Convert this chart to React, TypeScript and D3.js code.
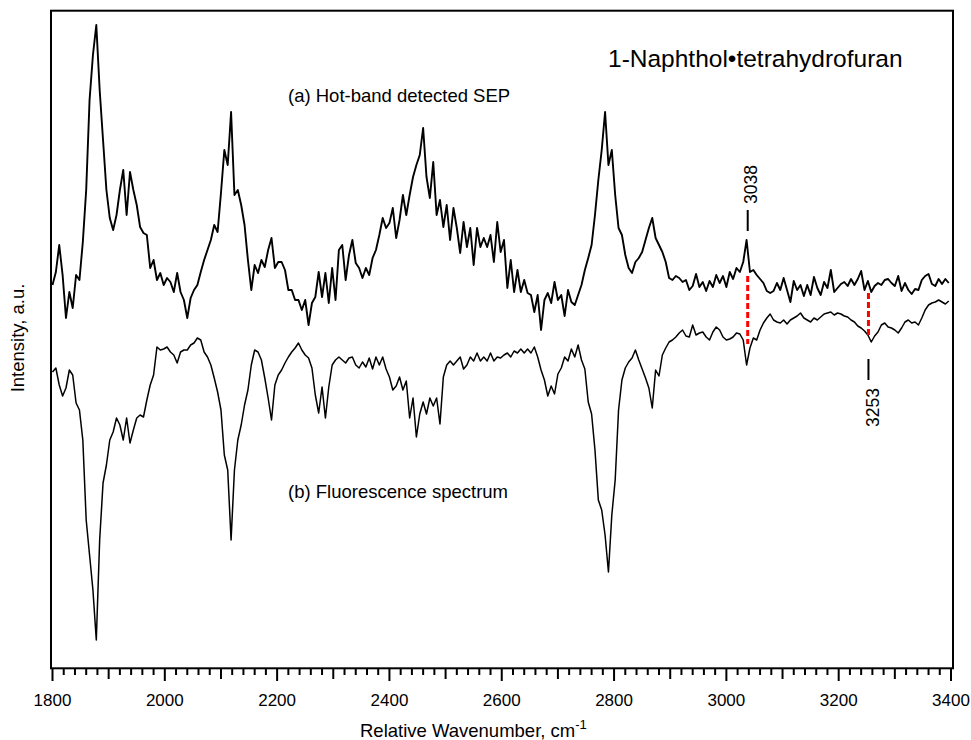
import React from "react";
import * as d3 from "d3";

// Wavenumber grid (cm^-1) on which both spectra were read
const wavenumbers: number[] = d3.range(1800, 3397, 6);

// (a) Hot-band detected SEP (a.u.)
const sepValues: number[] = [
  383, 396, 423, 393, 350, 376, 360, 393, 388, 426,
  478, 568, 613, 643, 578, 528, 478, 450, 438, 453,
  478, 498, 453, 496, 478, 463, 441, 435, 433, 400,
  408, 388, 395, 383, 390, 386, 376, 395, 376, 368,
  350, 370, 378, 383, 396, 408, 418, 428, 443, 436,
  475, 518, 503, 556, 473, 478, 463, 443, 408, 378,
  403, 395, 408, 401, 418, 430, 400, 406, 406, 398,
  378, 378, 368, 368, 358, 368, 343, 365, 371, 396,
  371, 395, 365, 400, 368, 418, 423, 388, 413, 428,
  405, 400, 390, 400, 393, 410, 418, 433, 450, 440,
  445, 460, 430, 448, 473, 453, 473, 491, 503, 513,
  540, 491, 470, 506, 453, 468, 441, 463, 428, 460,
  440, 415, 446, 421, 440, 403, 440, 421, 430, 421,
  433, 406, 446, 416, 428, 380, 408, 376, 398, 376,
  388, 375, 373, 356, 373, 338, 368, 375, 365, 386,
  368, 373, 352, 378, 366, 363, 373, 383, 398, 410,
  423, 453, 488, 518, 556, 503, 518, 473, 440, 433,
  413, 400, 395, 406, 410, 416, 428, 440, 450, 430,
  423, 416, 406, 390, 388, 392, 390, 386, 388, 378,
  382, 394, 381, 386, 377, 387, 381, 393, 385, 392,
  381, 396, 389, 400, 396, 406, 428, 396, 398, 393,
  389, 385, 377, 375, 377, 385, 378, 390, 378, 366,
  387, 378, 383, 372, 383, 373, 391, 380, 373, 386,
  380, 398, 376, 380, 384, 386, 382, 389, 383, 389,
  397, 378, 387, 376, 382, 385, 383, 388, 389, 385,
  382, 392, 377, 385, 378, 374, 379, 378, 388, 392,
  394, 384, 382, 389, 384, 389, 385,
];

// (b) Fluorescence spectrum (a.u.)
const fluorValues: number[] = [
  296, 300, 283, 272, 280, 298, 293, 265, 258, 228,
  148, 113, 78, 28, 128, 185, 203, 228, 236, 250,
  243, 228, 250, 225, 238, 250, 253, 251, 268, 283,
  293, 321, 318, 319, 321, 316, 313, 305, 316, 318,
  318, 323, 325, 330, 328, 316, 311, 303, 290, 276,
  258, 213, 198, 128, 198, 228, 243, 263, 278, 303,
  318, 316, 308, 290, 270, 248, 283, 293, 298, 305,
  311, 316, 320, 325, 318, 313, 310, 300, 273, 255,
  281, 250, 281, 303, 308, 311, 308, 305, 310, 311,
  303, 300, 306, 301, 310, 299, 311, 303, 311, 299,
  291, 278, 282, 291, 278, 287, 250, 270, 231, 254,
  266, 254, 270, 262, 270, 244, 291, 303, 307, 303,
  307, 311, 299, 303, 311, 307, 315, 307, 311, 307,
  315, 307, 311, 310, 313, 315, 311, 317, 315, 319,
  315, 319, 315, 321, 311, 298, 288, 272, 282, 274,
  294, 300, 311, 307, 319, 311, 323, 308, 299, 266,
  254, 218, 168, 158, 133, 96, 153, 188, 258, 288,
  300, 306, 310, 318, 308, 299, 290, 280, 260, 298,
  292, 313, 320, 326, 328, 331, 335, 338, 332, 331,
  343, 333, 335, 336, 331, 328, 336, 341, 338, 331,
  328, 329, 331, 335, 334, 328, 303, 320, 330, 328,
  338, 345, 350, 354, 348, 346, 345, 348, 344, 348,
  350, 352, 355, 350, 348, 346, 350, 348, 351, 354,
  355, 356, 353, 355, 354, 352, 351, 348, 346, 342,
  340, 337, 333, 326, 332, 336, 343, 345, 341, 340,
  338, 335, 340, 346, 348, 345, 346, 343, 350, 358,
  363, 365, 366, 368, 366, 364, 367,
];

// Marked bands
const markerPeaks: number[] = [3038, 3253];
const markerSep: number[] = [392, 375];
const markerFluor: number[] = [324, 331];

const xTickLabels: number[] = [1800, 2000, 2200, 2400, 2600, 2800, 3000, 3200, 3400];

const W = 971;
const H = 740;
const FONT = "'Liberation Sans', Arial, Helvetica, sans-serif";

export default function App() {
  const x = d3.scaleLinear().domain([1800, 3400]).range([52.5, 951]);
  const y = d3.scaleLinear().domain([0, 658]).range([668, 10]);

  const sepPts = wavenumbers.map((w, i) => [w, sepValues[i]] as [number, number]);
  const fluPts = wavenumbers.map((w, i) => [w, fluorValues[i]] as [number, number]);
  const line = d3
    .line<[number, number]>()
    .x((d) => x(d[0]))
    .y((d) => y(d[1]));

  const ticks = d3.range(1800, 3401, 20);
  const axisY = 668;

  return (
    <svg
      width={W}
      height={H}
      style={{ position: "absolute", left: 0, top: 0, background: "#fff" }}
      fontFamily={FONT}
    >
      <rect x={0} y={0} width={W} height={H} fill="#fff" />
      {/* traces */}
      <path d={line(sepPts) || ""} fill="none" stroke="#000" strokeWidth={1.9} strokeLinejoin="round" />
      <path d={line(fluPts) || ""} fill="none" stroke="#000" strokeWidth={1.5} strokeLinejoin="round" />

      {/* red dashed markers */}
      {markerPeaks.map((p, i) => (
        <line
          key={"m" + p}
          x1={x(p)}
          x2={x(p)}
          y1={y(markerSep[i])}
          y2={y(markerFluor[i])}
          stroke="#ff0000"
          strokeWidth={3}
          strokeDasharray="6,3"
        />
      ))}

      {/* 3038 label (above) */}
      <line x1={x(markerPeaks[0])} x2={x(markerPeaks[0])} y1={210} y2={231} stroke="#000" strokeWidth={2} />
      <text
        transform={`translate(${x(markerPeaks[0]) + 9},204) rotate(-90)`}
        fontSize={17.5}
        textAnchor="start"
      >
        {markerPeaks[0]}
      </text>
      {/* 3253 label (below) */}
      <line x1={x(markerPeaks[1])} x2={x(markerPeaks[1])} y1={359} y2={380} stroke="#000" strokeWidth={2} />
      <text
        transform={`translate(${x(markerPeaks[1]) + 11},427) rotate(-90)`}
        fontSize={17.5}
        textAnchor="start"
      >
        {markerPeaks[1]}
      </text>

      {/* frame */}
      <rect x={51} y={10.7} width={902} height={657.6} fill="none" stroke="#000" strokeWidth={2} />

      {/* x ticks */}
      {ticks.map((t) => {
        const len = t % 200 === 0 ? 13 : t % 100 === 0 ? 11 : 7;
        return (
          <line key={"t" + t} x1={x(t)} x2={x(t)} y1={axisY} y2={axisY + len} stroke="#000" strokeWidth={2} />
        );
      })}
      {xTickLabels.map((t) => (
        <text key={"l" + t} x={x(t)} y={706} fontSize={17} textAnchor="middle">
          {t}
        </text>
      ))}

      {/* axis titles */}
      <text x={360} y={737} fontSize={18.5}>
        Relative Wavenumber, cm
        <tspan fontSize={13} dy={-8}>-1</tspan>
      </text>
      <text transform="translate(24,338) rotate(-90)" fontSize={18.5} textAnchor="middle">
        Intensity, a.u.
      </text>

      {/* annotations */}
      <text x={608} y={67} fontSize={24.5}>
        1-Naphthol•tetrahydrofuran
      </text>
      <text x={288} y={102} fontSize={18.5}>
        (a) Hot-band detected SEP
      </text>
      <text x={288} y={498} fontSize={18.5}>
        (b) Fluorescence spectrum
      </text>
    </svg>
  );
}
